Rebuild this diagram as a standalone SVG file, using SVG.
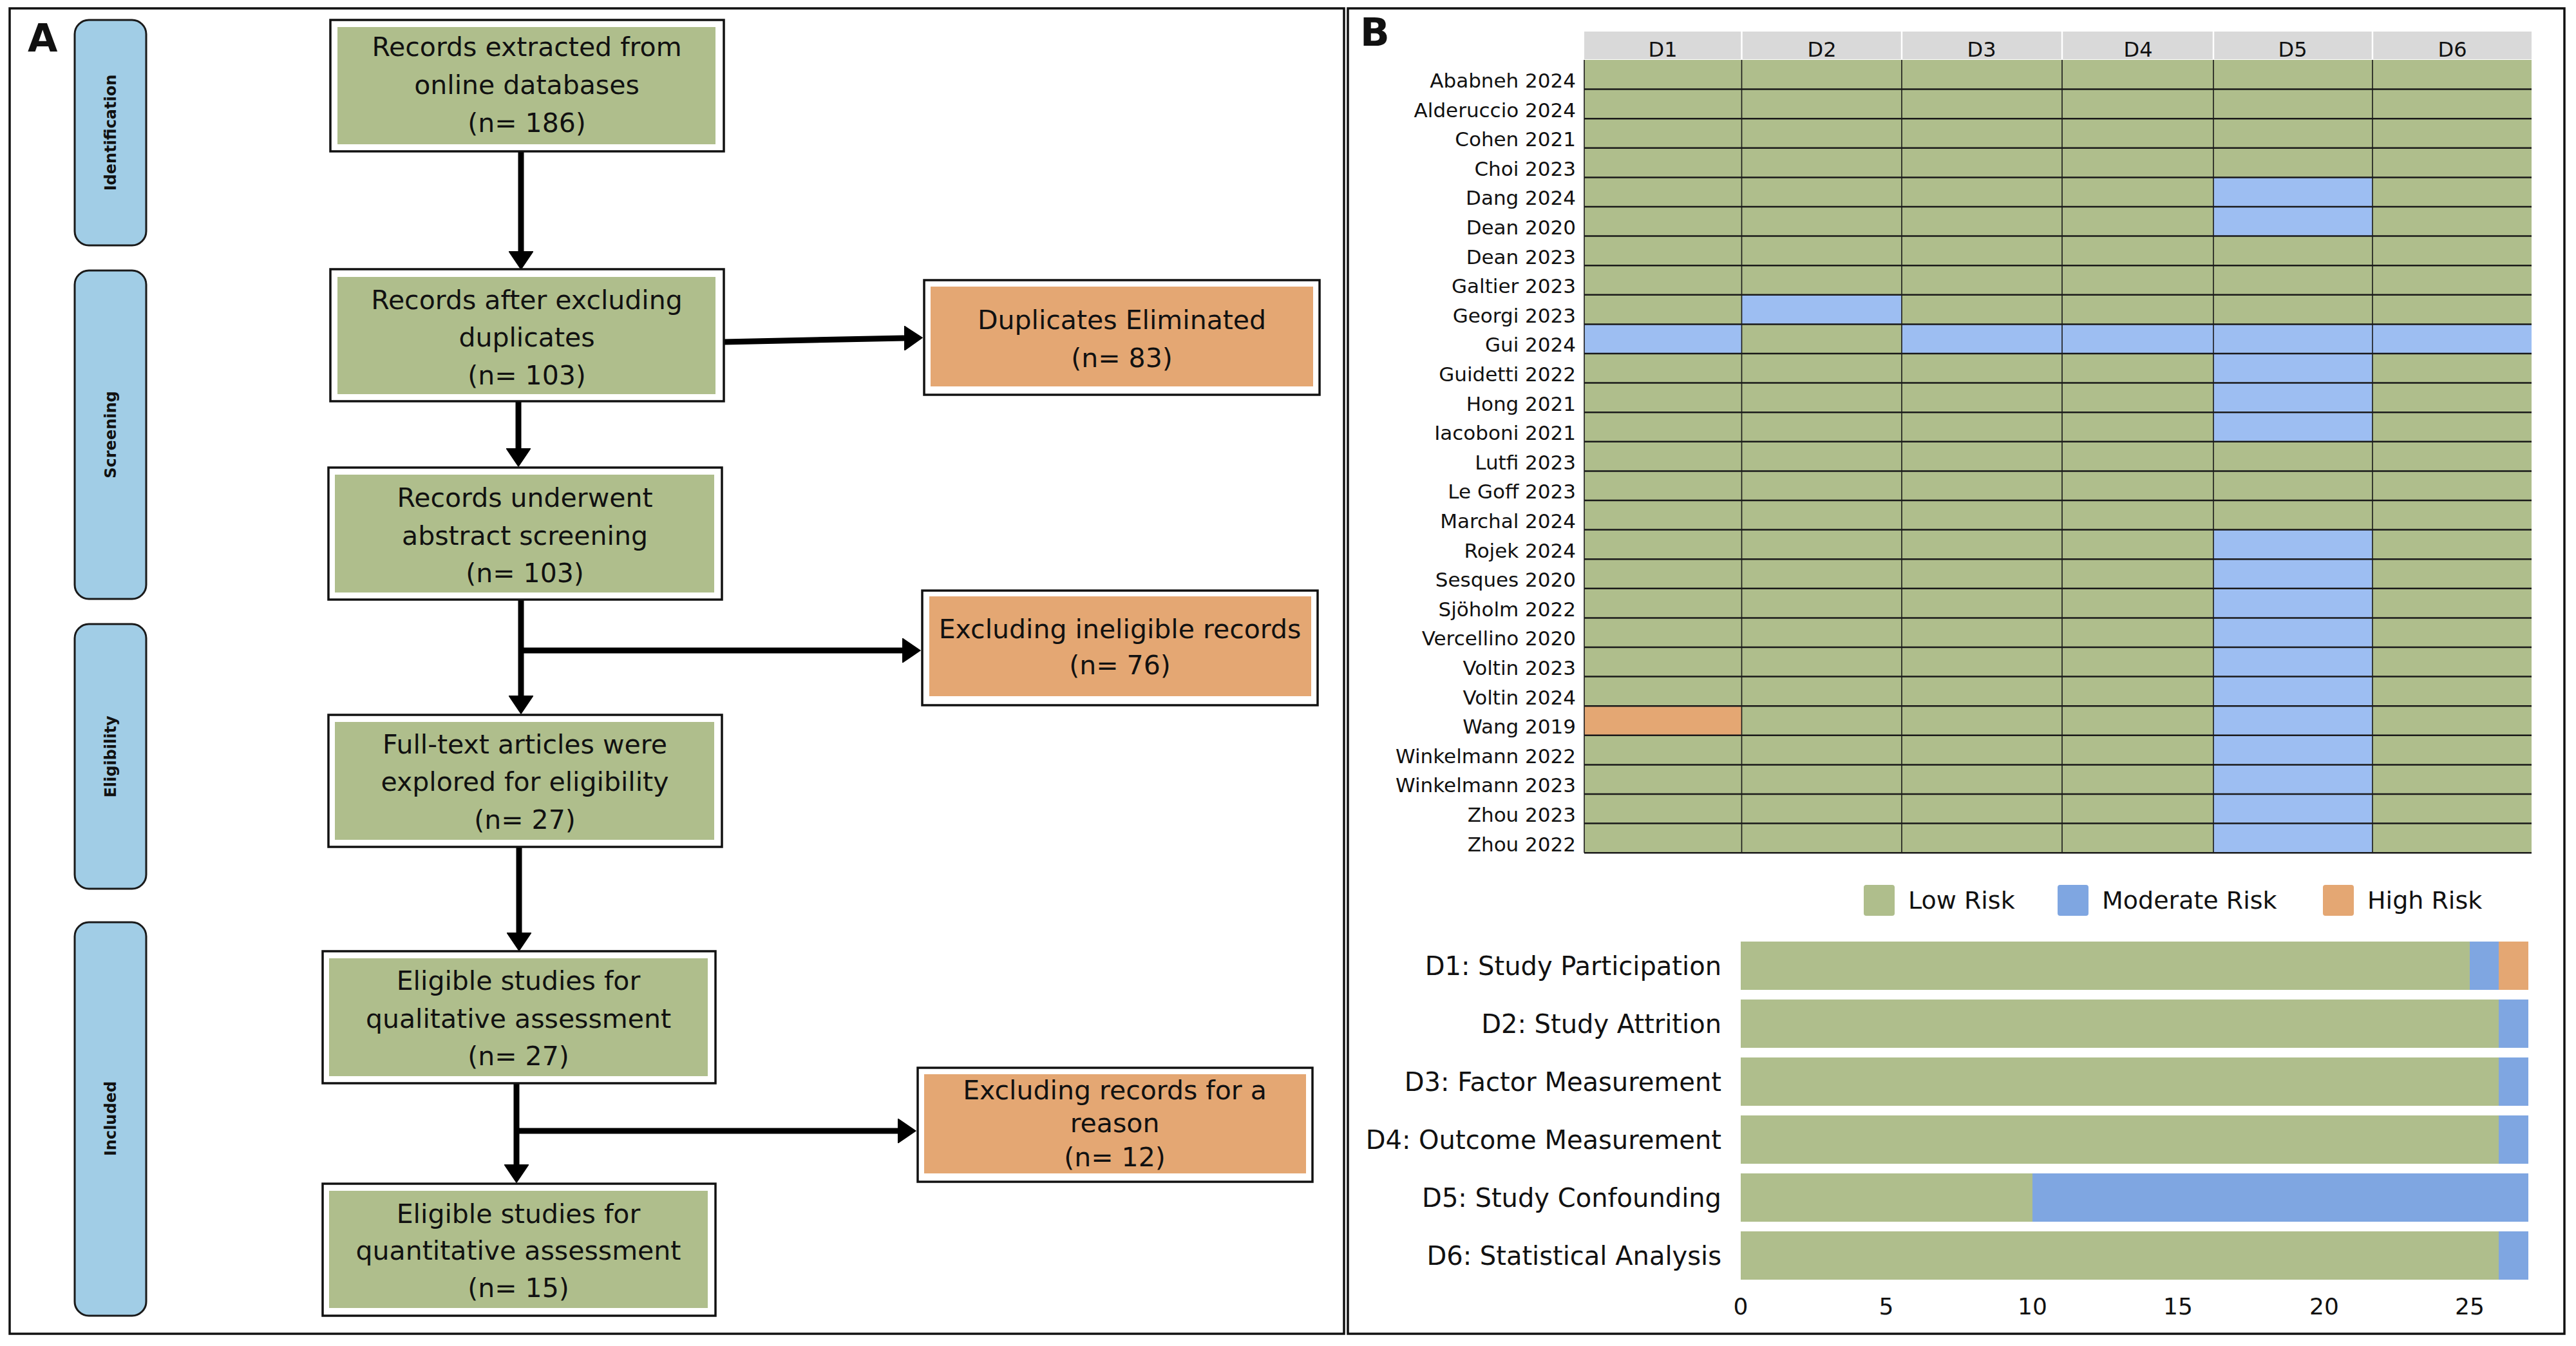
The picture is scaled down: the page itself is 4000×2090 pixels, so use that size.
<svg xmlns="http://www.w3.org/2000/svg" width="4000" height="2090" viewBox="0 0 4000 2090">
<style>
text{font-family:"DejaVu Sans","Liberation Sans",sans-serif;fill:#111}
.panel{fill:none;stroke:#111;stroke-width:3.5}
.tag{font-weight:bold;font-size:60px}
.phase{fill:#a1cde6;stroke:#1a1a1a;stroke-width:3}
.plab{font-weight:bold;font-size:24px;text-anchor:middle}
.outer{fill:#fff;stroke:#111;stroke-width:3.5}
.g{fill:#afbe8c}
.o{fill:#e4a773}
.b{fill:#9dbef2}
.bb{fill:#7fa6e1}
.bt{font-size:41px;text-anchor:middle}
.conn{stroke:#000;stroke-width:9;fill:none}
.hl{stroke:#1a1a1a;stroke-width:2.5}
.vl{stroke:#1a1a1a;stroke-width:1.6}
.rl{font-size:31px;text-anchor:end}
.hd{font-size:32px;text-anchor:middle}
.bl{font-size:40px;text-anchor:end}
.ax{font-size:36px;text-anchor:middle}
.lg{font-size:38px}
</style>
<defs>
<marker id="ah" markerUnits="userSpaceOnUse" viewBox="0 0 29 38" markerWidth="29" markerHeight="38" refX="0" refY="19" orient="auto">
<path d="M0,0 L28,19 L0,38 Z" fill="#000" stroke="#000" stroke-width="1.5" stroke-linejoin="round"/>
</marker>
</defs>
<rect width="4000" height="2090" fill="#fff"/>

<!-- Panel A -->
<rect class="panel" x="15" y="13" width="2072" height="2058"/>
<text class="tag" x="43" y="80">A</text>

<g id="phase-identification"><rect class="phase" x="116" y="31" width="111" height="350" rx="22"/><text class="plab" transform="translate(180,206) rotate(-90)">Identification</text></g>
<g id="phase-screening"><rect class="phase" x="116" y="420" width="111" height="510" rx="22"/><text class="plab" transform="translate(180,675) rotate(-90)">Screening</text></g>
<g id="phase-eligibility"><rect class="phase" x="116" y="969" width="111" height="411" rx="22"/><text class="plab" transform="translate(180,1175) rotate(-90)">Eligibility</text></g>
<g id="phase-included"><rect class="phase" x="116" y="1432" width="111" height="611" rx="22"/><text class="plab" transform="translate(180,1737) rotate(-90)">Included</text></g>

<g id="connectors">
<path class="conn" d="M809,235 V390" marker-end="url(#ah)"/>
<path class="conn" d="M1124,531 L1404,525" marker-end="url(#ah)"/>
<path class="conn" d="M805,623 V696" marker-end="url(#ah)"/>
<path class="conn" d="M809,931 V1080" marker-end="url(#ah)"/>
<path class="conn" d="M809,1010 H1401" marker-end="url(#ah)"/>
<path class="conn" d="M806,1315 V1448" marker-end="url(#ah)"/>
<path class="conn" d="M802,1682 V1808" marker-end="url(#ah)"/>
<path class="conn" d="M802,1756 H1394" marker-end="url(#ah)"/>
</g>

<g id="n-records-extracted"><rect class="outer" x="513" y="31" width="611" height="204"/><rect class="g" x="524" y="42" width="587" height="182"/>
<text class="bt" x="818" y="87">Records extracted from</text><text class="bt" x="818" y="146">online databases</text><text class="bt" x="818" y="205">(n= 186)</text></g>

<g id="n-after-duplicates"><rect class="outer" x="513" y="418" width="611" height="205"/><rect class="g" x="524" y="430" width="587" height="182"/>
<text class="bt" x="818" y="480">Records after excluding</text><text class="bt" x="818" y="538">duplicates</text><text class="bt" x="818" y="597">(n= 103)</text></g>

<g id="n-abstract-screening"><rect class="outer" x="510" y="726" width="611" height="205"/><rect class="g" x="520" y="737" width="589" height="183"/>
<text class="bt" x="815" y="787">Records underwent</text><text class="bt" x="815" y="846">abstract screening</text><text class="bt" x="815" y="904">(n= 103)</text></g>

<g id="n-full-text"><rect class="outer" x="510" y="1110" width="611" height="205"/><rect class="g" x="520" y="1121" width="589" height="183"/>
<text class="bt" x="815" y="1170">Full-text articles were</text><text class="bt" x="815" y="1228">explored for eligibility</text><text class="bt" x="815" y="1287">(n= 27)</text></g>

<g id="n-qualitative"><rect class="outer" x="501" y="1477" width="610" height="205"/><rect class="g" x="511" y="1488" width="588" height="183"/>
<text class="bt" x="805" y="1537">Eligible studies for</text><text class="bt" x="805" y="1596">qualitative assessment</text><text class="bt" x="805" y="1654">(n= 27)</text></g>

<g id="n-quantitative"><rect class="outer" x="501" y="1838" width="610" height="205"/><rect class="g" x="511" y="1849" width="588" height="182"/>
<text class="bt" x="805" y="1899">Eligible studies for</text><text class="bt" x="805" y="1956">quantitative assessment</text><text class="bt" x="805" y="2014">(n= 15)</text></g>

<g id="n-duplicates"><rect class="outer" x="1435" y="435" width="614" height="178"/><rect class="o" x="1445" y="445" width="594" height="155"/>
<text class="bt" x="1742" y="511">Duplicates Eliminated</text><text class="bt" x="1742" y="570">(n= 83)</text></g>

<g id="n-ineligible"><rect class="outer" x="1432" y="917" width="614" height="178"/><rect class="o" x="1443" y="926" width="593" height="155"/>
<text class="bt" x="1739" y="991">Excluding ineligible records</text><text class="bt" x="1739" y="1047">(n= 76)</text></g>

<g id="n-reason"><rect class="outer" x="1425" y="1658" width="613" height="177"/><rect class="o" x="1435" y="1668" width="593" height="154"/>
<text class="bt" x="1731" y="1707">Excluding records for a</text><text class="bt" x="1731" y="1758">reason</text><text class="bt" x="1731" y="1811">(n= 12)</text></g>

<!-- Panel B -->
<rect class="panel" x="2093" y="13" width="1889" height="2058"/>
<text class="tag" x="2112" y="71">B</text>

<g id="risk-table">
<g id="header">
<rect x="2460" y="49" width="1471" height="43" fill="#d9d9d9"/>
<g stroke="#fff" stroke-width="2.5"><path d="M2704.5,49 V92 M2953,49 V92 M3202,49 V92 M3437,49 V92 M3684,49 V92"/></g>
<text class="hd" x="2582" y="88">D1</text><text class="hd" x="2829" y="88">D2</text><text class="hd" x="3077" y="88">D3</text><text class="hd" x="3320" y="88">D4</text><text class="hd" x="3560" y="88">D5</text><text class="hd" x="3808" y="88">D6</text>
</g>
<rect class="g" x="2460" y="93" width="1471" height="1231.2"/>
<rect class="b" x="3437" y="275.4" width="247" height="91.2"/>
<rect class="b" x="2704.5" y="457.8" width="248.5" height="45.6"/>
<rect class="b" x="2460" y="503.4" width="244.5" height="45.6"/>
<rect class="b" x="2953" y="503.4" width="978" height="45.6"/>
<rect class="b" x="3437" y="503.4" width="247" height="182.4"/>
<rect class="b" x="3437" y="822.6" width="247" height="501.6"/>
<rect class="o" x="2460" y="1096.2" width="244.5" height="45.6"/>
<g id="grid">
<path class="vl" d="M2460,93 V1324.2 M2704.5,93 V1324.2 M2953,93 V1324.2 M3202,93 V1324.2 M3437,93 V1324.2 M3684,93 V1324.2"/>
<path class="hl" d="M2460,138.6 H3931 M2460,184.2 H3931 M2460,229.8 H3931 M2460,275.4 H3931 M2460,321 H3931 M2460,366.6 H3931 M2460,412.2 H3931 M2460,457.8 H3931 M2460,503.4 H3931 M2460,549 H3931 M2460,594.6 H3931 M2460,640.2 H3931 M2460,685.8 H3931 M2460,731.4 H3931 M2460,777 H3931 M2460,822.6 H3931 M2460,868.2 H3931 M2460,913.8 H3931 M2460,959.4 H3931 M2460,1005 H3931 M2460,1050.6 H3931 M2460,1096.2 H3931 M2460,1141.8 H3931 M2460,1187.4 H3931 M2460,1233 H3931 M2460,1278.6 H3931 M2460,1324.2 H3931"/>
</g>
<g id="row-labels">
<text class="rl" x="2447" y="136">Ababneh 2024</text>
<text class="rl" x="2447" y="181.6">Alderuccio 2024</text>
<text class="rl" x="2447" y="227.2">Cohen 2021</text>
<text class="rl" x="2447" y="272.8">Choi 2023</text>
<text class="rl" x="2447" y="318.4">Dang 2024</text>
<text class="rl" x="2447" y="364">Dean 2020</text>
<text class="rl" x="2447" y="409.6">Dean 2023</text>
<text class="rl" x="2447" y="455.2">Galtier 2023</text>
<text class="rl" x="2447" y="500.8">Georgi 2023</text>
<text class="rl" x="2447" y="546.4">Gui 2024</text>
<text class="rl" x="2447" y="592">Guidetti 2022</text>
<text class="rl" x="2447" y="637.6">Hong 2021</text>
<text class="rl" x="2447" y="683.2">Iacoboni 2021</text>
<text class="rl" x="2447" y="728.8">Lutfi 2023</text>
<text class="rl" x="2447" y="774.4">Le Goff 2023</text>
<text class="rl" x="2447" y="820">Marchal 2024</text>
<text class="rl" x="2447" y="865.6">Rojek 2024</text>
<text class="rl" x="2447" y="911.2">Sesques 2020</text>
<text class="rl" x="2447" y="956.8">Sjöholm 2022</text>
<text class="rl" x="2447" y="1002.4">Vercellino 2020</text>
<text class="rl" x="2447" y="1048">Voltin 2023</text>
<text class="rl" x="2447" y="1093.6">Voltin 2024</text>
<text class="rl" x="2447" y="1139.2">Wang 2019</text>
<text class="rl" x="2447" y="1184.8">Winkelmann 2022</text>
<text class="rl" x="2447" y="1230.4">Winkelmann 2023</text>
<text class="rl" x="2447" y="1276">Zhou 2023</text>
<text class="rl" x="2447" y="1321.6">Zhou 2022</text>
</g>
</g>

<g id="legend">
<rect class="g" x="2894" y="1374" width="48" height="48" rx="4"/><text class="lg" x="2963" y="1411">Low Risk</text>
<rect class="bb" x="3195" y="1374" width="48" height="48" rx="4"/><text class="lg" x="3264" y="1411">Moderate Risk</text>
<rect class="o" x="3607" y="1374" width="48" height="48" rx="4"/><text class="lg" x="3676" y="1411">High Risk</text>
</g>

<g id="bar-chart">
<g id="bar-d1"><rect class="g" x="2703" y="1462" width="1132" height="75"/><rect class="bb" x="3835" y="1462" width="45" height="75"/><rect class="o" x="3880" y="1462" width="46" height="75"/><text class="bl" x="2673" y="1514">D1: Study Participation</text></g>
<g id="bar-d2"><rect class="g" x="2703" y="1552" width="1177" height="75"/><rect class="bb" x="3880" y="1552" width="46" height="75"/><text class="bl" x="2673" y="1604">D2: Study Attrition</text></g>
<g id="bar-d3"><rect class="g" x="2703" y="1642" width="1177" height="75"/><rect class="bb" x="3880" y="1642" width="46" height="75"/><text class="bl" x="2673" y="1694">D3: Factor Measurement</text></g>
<g id="bar-d4"><rect class="g" x="2703" y="1732" width="1177" height="75"/><rect class="bb" x="3880" y="1732" width="46" height="75"/><text class="bl" x="2673" y="1784">D4: Outcome Measurement</text></g>
<g id="bar-d5"><rect class="g" x="2703" y="1822" width="453" height="75"/><rect class="bb" x="3156" y="1822" width="770" height="75"/><text class="bl" x="2673" y="1874">D5: Study Confounding</text></g>
<g id="bar-d6"><rect class="g" x="2703" y="1912" width="1177" height="75"/><rect class="bb" x="3880" y="1912" width="46" height="75"/><text class="bl" x="2673" y="1964">D6: Statistical Analysis</text></g>
<g id="axis">
<text class="ax" x="2703" y="2041">0</text><text class="ax" x="2929" y="2041">5</text><text class="ax" x="3156" y="2041">10</text><text class="ax" x="3382" y="2041">15</text><text class="ax" x="3609" y="2041">20</text><text class="ax" x="3835" y="2041">25</text>
</g>
</g>
</svg>
